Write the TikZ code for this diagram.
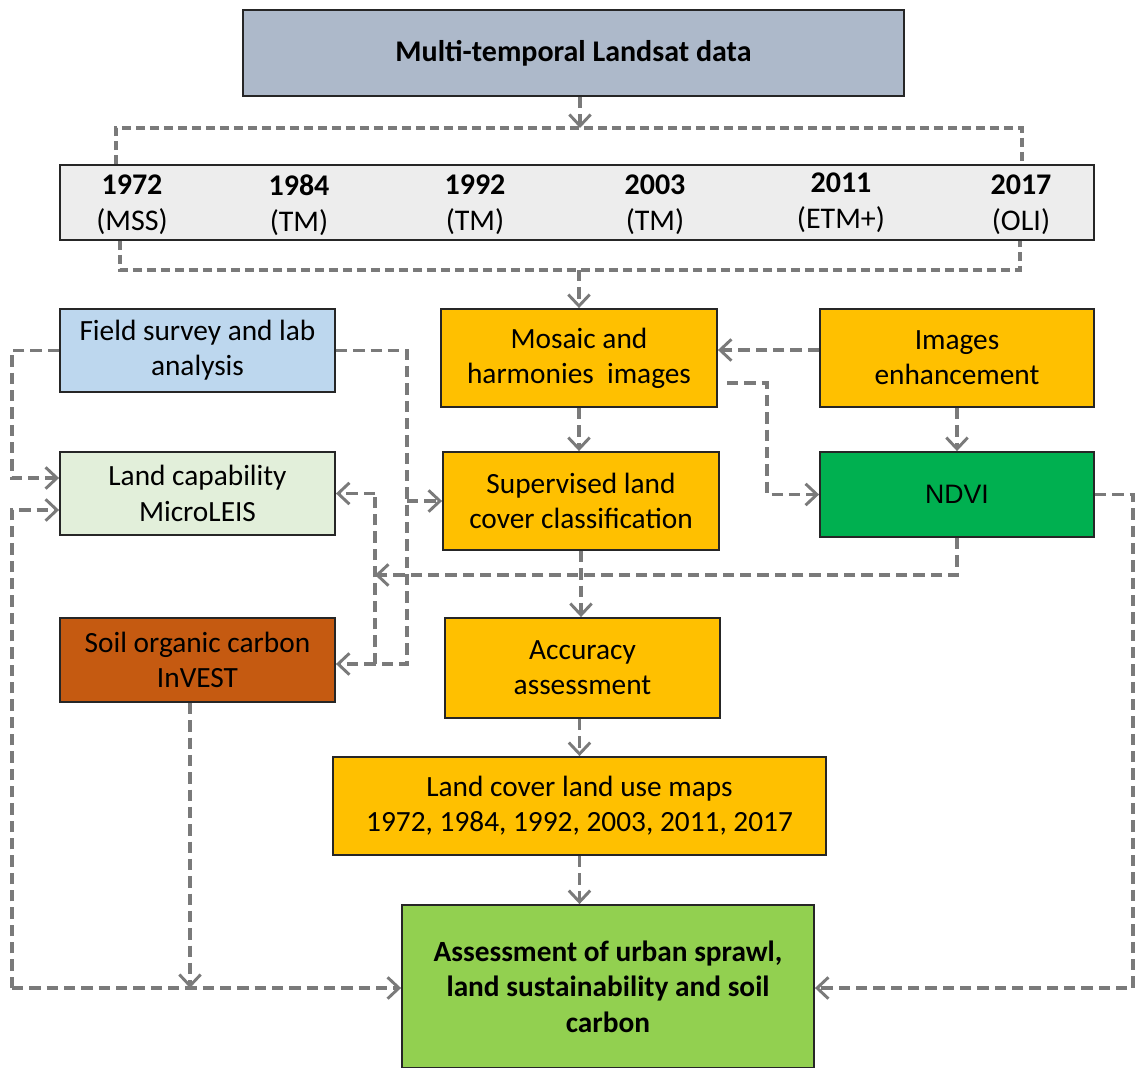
\documentclass[tikz,border=0pt]{standalone}
\usepackage{fontspec}
\setmainfont{Carlito}
\newfontfamily\arialf{Liberation Sans}
\usetikzlibrary{arrows.meta}
\definecolor{arrgray}{HTML}{7A7A7A}
\definecolor{cTop}{HTML}{ADB9CA}
\definecolor{cBar}{HTML}{EDEDED}
\definecolor{cField}{HTML}{BDD7EE}
\definecolor{cOrange}{HTML}{FFC000}
\definecolor{cLand}{HTML}{E2EFDA}
\definecolor{cNdvi}{HTML}{00B050}
\definecolor{cSoc}{HTML}{C55A11}
\definecolor{cAss}{HTML}{92D050}
\begin{document}
\begin{tikzpicture}[x=0.75pt,y=-0.75pt,
  box/.style={draw=black!85, line width=1.4pt, inner sep=0pt, align=center,
    font=\fontsize{22}{26.5}\selectfont, text=black},
  dims/.style 2 args={minimum width=#1*0.75pt, minimum height=#2*0.75pt},
  arr/.style={draw=arrgray, line width=2.8pt, dash pattern=on 8.5pt off 4.5pt,
    -{Straight Barb[length=8.5pt,width=16pt,line width=2.2pt]}},
  ln/.style={draw=arrgray, line width=2.8pt, dash pattern=on 8.5pt off 4.5pt},
  brk/.style={draw=arrgray, line width=2.5pt, dash pattern=on 7pt off 3.5pt},
  yr/.style={align=center, inner sep=0pt, font=\fontsize{22.5}{27}\selectfont, text=black}]
\useasboundingbox (0,0) rectangle (1136,1068);
\fill[white] (0,0) rectangle (1136,1068);

% boxes
\node[box, fill=cTop, dims={661}{86}, font=\fontsize{22.5}{26}\selectfont\bfseries] (top) at (573.5,53) {Multi-temporal Landsat data};
\node[box, fill=cBar, dims={1034}{75}] (bar) at (577,202.5) {};
\node[yr] (y1) at (132,205) {\textbf{1972}\\(MSS)};
\node[yr] (y2) at (299,205) {\textbf{1984}\\(TM)};
\node[yr] (y3) at (475,205) {\textbf{1992}\\(TM)};
\node[yr] (y4) at (655,205) {\textbf{2003}\\(TM)};
\node[yr] (y5) at (841,203) {\textbf{2011}\\(ETM+)};
\node[yr] (y6) at (1021,205) {\textbf{2017}\\(OLI)};

\node[box, fill=cField, dims={275}{83}] (field) at (197.5,350.5) {Field survey and lab\\analysis};
\node[box, fill=cOrange, dims={276}{98}] (mosaic) at (579,358) {Mosaic and\\harmonies~ images};
\node[box, fill=cOrange, dims={274}{98}] (enh) at (957,358) {Images\\enhancement};
\node[box, fill=cLand, dims={275}{83}] (landcap) at (197.5,493.5) {Land capability\\MicroLEIS};
\node[box, fill=cOrange, dims={276}{98}] (sup) at (581,501) {Supervised land\\cover classification};
\node[box, fill=cNdvi, dims={274}{85}, font=\arialf\fontsize{20}{24}\selectfont] (ndvi) at (957,494.5) {NDVI};
\node[box, fill=cSoc, dims={275}{84}] (soc) at (197.5,660) {Soil organic carbon\\InVEST};
\node[box, fill=cOrange, dims={275}{100}] (acc) at (582.5,668) {Accuracy\\assessment};
\node[box, fill=cOrange, dims={493}{98}] (maps) at (579.5,806) {Land cover land use maps\\1972, 1984, 1992, 2003, 2011, 2017};
\node[box, fill=cAss, dims={412}{163}, font=\fontsize{22}{26.5}\selectfont\bfseries] (assess) at (608,986.5) {Assessment of urban sprawl,\\land sustainability and soil\\carbon};

% helper coordinates
\coordinate (xC) at (580,0);
\coordinate (yT) at (0,128);
\coordinate (yU) at (0,270);
\coordinate (xb1) at (116,0);
\coordinate (xb2) at (1022,0);
\coordinate (xb3) at (120,0);
\coordinate (xb4) at (1020,0);
\coordinate (xL) at (12,0);
\coordinate (xR) at (407,0);
\coordinate (xM) at (375,0);
\coordinate (xN) at (767,0);
\coordinate (xRR) at (1133,0);
\coordinate (xS) at (190,0);
\coordinate (yLa) at (0,478);
\coordinate (yLb) at (0,510);
\coordinate (ySoc) at (0,664);
\coordinate (yN) at (0,575);
\coordinate (yB) at (0,988);
\coordinate (yE) at (0,350);
\coordinate (mstart) at (727,383);

% top
\draw[arr] (xC |- top.south) -- (xC |- yT);
\draw[brk] (bar.north -| xb1) |- (xb2 |- yT) -- (bar.north -| xb2);
\draw[brk] (bar.south -| xb3) |- (xb4 |- yU) -- (bar.south -| xb4);
\draw[arr] (mosaic.north |- yU) -- (mosaic.north);

% middle column
\draw[arr] (enh.west |- yE) -- (mosaic.east |- yE);
\draw[arr] (mstart) -- (xN |- mstart) |- (ndvi.west);
\draw[arr] (enh.south) -- (ndvi.north);
\draw[arr] (mosaic.south) -- (mosaic.south |- sup.north);
\draw[arr] (sup.south) -- (sup.south |- acc.north);
\draw[arr] (maps.north |- acc.south) -- (maps.north);
\draw[arr] (maps.south) -- (maps.south |- assess.north);

% field survey
\draw[arr] (field.west) -- (field.west -| xL) |- (landcap.west |- yLa);
\draw[arr] (field.east) -- (field.east -| xR) |- (soc.east |- ySoc);
\draw[arr] (xR |- sup.west) -- (sup.west);

% NDVI feedback
\draw[arr] (ndvi.south) |- (xM |- yN);
\draw[ln] (xM |- ySoc) -- (xM |- landcap.east);
\draw[arr] (xM |- landcap.east) -- (landcap.east);

% bottom
\draw[arr] (xL |- yB) -- (xL |- yLb) -- (landcap.west |- yLb);
\draw[arr] (xL |- yB) -- (assess.west |- yB);
\draw[arr] (xS |- soc.south) -- (xS |- yB);
\draw[arr] (ndvi.east) -- (ndvi.east -| xRR) |- (assess.east |- yB);
\end{tikzpicture}
\end{document}
